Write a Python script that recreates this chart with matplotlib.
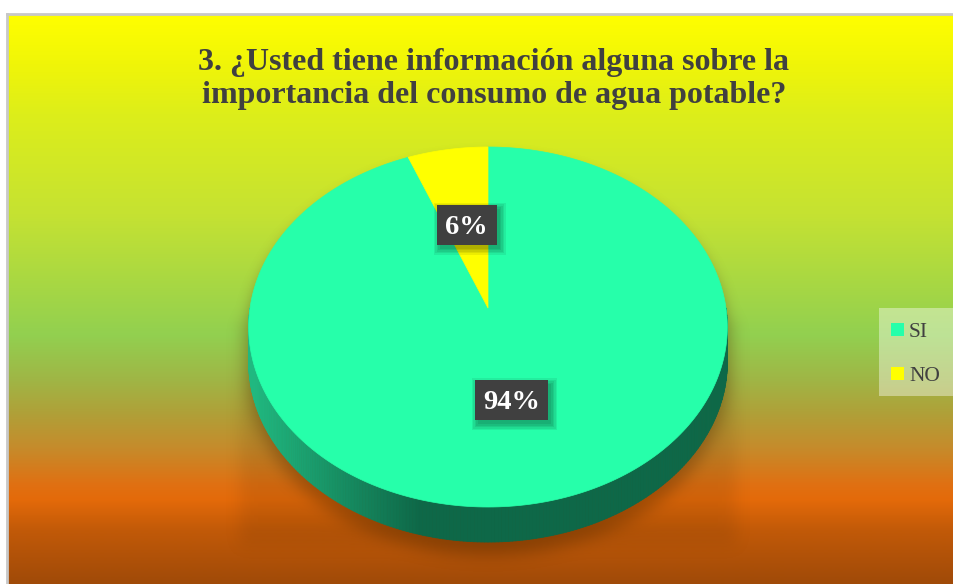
import numpy as np
import matplotlib
matplotlib.use('Agg')
import matplotlib.pyplot as plt
from matplotlib.patches import Polygon, Rectangle
from matplotlib.collections import PolyCollection
from matplotlib.path import Path

# ---- datos ----
categorias = ['SI', 'NO']
valores = [94, 6]
colores = ['#26FFAA', '#FFFF00']
titulo = ['3. ¿Usted tiene información alguna sobre la',
          'importancia del consumo de agua potable?']

# fondo degradado (posición y en px, color)
fondo_y = [15, 64, 114, 214, 335, 381, 414, 447, 485, 500, 530, 584]
fondo_c = [(255, 255, 0), (240, 245, 8), (221, 238, 26), (197, 226, 50),
           (146, 208, 80), (160, 181, 69), (176, 160, 56), (197, 140, 44),
           (224, 112, 18), (228, 106, 10), (194, 90, 8), (160, 74, 8)]

W, H = 954, 584
SERIF = ['Liberation Serif', 'DejaVu Serif']

fig = plt.figure(figsize=(W / 100, H / 100), dpi=100)
fig.patch.set_facecolor('white')
ax = fig.add_axes([0, 0, 1, 1])
ax.axis('off')

# ---- fondo ----
yy = np.arange(15, H + 1)
grad = np.stack([np.interp(yy, fondo_y, [c[i] for c in fondo_c]) for i in range(3)], axis=-1) / 255
ax.imshow(grad[:, None, :], extent=[8, W, H, 15], aspect='auto', zorder=0, interpolation='bilinear')
ax.plot([7, 7], [H, 14], color='#C8C8C8', lw=2, zorder=0.5)
ax.plot([7, W], [14, 14], color='#C8C8C8', lw=2, zorder=0.5)

# ---- geometría del pastel 3D (perspectiva simple) ----
cx, cy = 488, 308
B, A, k = 238, 178, 0.1056
D = 35  # grosor


def proj(t, r=1.0):
    u = r * np.cos(t)
    v = r * np.sin(t)
    d = 1 + k * v
    return cx + B * u / d, cy - A * v / d


def blur(a, r):
    for axis in (0, 1):
        pad = [(r + 1, r) if i == axis else (0, 0) for i in range(2)]
        c = np.cumsum(np.pad(a, pad, mode='edge'), axis=axis)
        n = c.shape[axis]
        a = (np.take(c, range(2 * r + 1, n), axis=axis) -
             np.take(c, range(0, n - 2 * r - 1), axis=axis)) / (2 * r + 1)
    return a


# sombra
X, Y = np.meshgrid(np.arange(W) + 0.5, np.arange(H) + 0.5)
pts = np.column_stack([X.ravel(), Y.ravel()])
tt = np.linspace(0, 2 * np.pi, 400)
ex, ey = proj(tt)
mask = np.zeros((H, W))
for dy in [12, 25, 40, 48]:
    mask = np.maximum(mask, Path(np.column_stack([ex, ey + dy])).contains_points(pts).reshape(H, W))
rect = (X > 240) & (X < 736) & (Y > 320) & (Y < 545)
mask = np.maximum(mask, 0.28 * rect)
sh = mask
for _ in range(3):
    sh = blur(sh, 7)
rgba = np.zeros((H, W, 4))
rgba[..., 0] = 0.30
rgba[..., 1] = 0.15
rgba[..., 3] = 0.45 * sh
ax.imshow(rgba, extent=[0, W, H, 0], zorder=1, interpolation='bilinear')

# lado del cilindro
ts = np.linspace(np.pi, 2 * np.pi, 241)
sx, sy = proj(ts)
claro = np.array([0x20, 0xB8, 0x80]) / 255
oscuro = np.array([0x0E, 0x68, 0x48]) / 255
quads, cols = [], []
for i in range(len(ts) - 1):
    quads.append([(sx[i], sy[i]), (sx[i + 1], sy[i + 1]),
                  (sx[i + 1], sy[i + 1] + D), (sx[i], sy[i] + D)])
    f = np.clip(((sx[i] + sx[i + 1]) / 2 - 255) / (420 - 255), 0, 1)
    cols.append(claro * (1 - f) + oscuro * f)
ax.add_collection(PolyCollection(quads, facecolors=cols, edgecolors=cols, linewidths=0.6, zorder=2))

# cara superior
total = sum(valores)
ang = np.deg2rad(90 - 360 * np.cumsum([0] + valores) / total)
for i, (cat, val) in enumerate(zip(categorias, valores)):
    t = np.linspace(ang[i], ang[i + 1], 300)
    px, py = proj(t)
    poly = np.vstack([[cx, cy], np.column_stack([px, py])])
    ax.add_patch(Polygon(poly, closed=True, facecolor=colores[i], edgecolor=colores[i],
                         lw=0.5, zorder=3))

# etiquetas
fig.canvas.draw()
for i, val in enumerate(valores):
    mid = (ang[i] + ang[i + 1]) / 2
    lx, ly = proj(mid, 0.5)
    txt = ax.text(lx, ly + 9, f'{val}%', ha='center', va='baseline', fontsize=20.5,
                  fontweight='bold', color='white', family=SERIF, zorder=7)
    bb = txt.get_window_extent(renderer=fig.canvas.get_renderer())
    w = bb.width + 17
    # sombra suave
    for g in range(5):
        e = 1.5 * g
        ax.add_patch(Rectangle((lx - w / 2 + 3 - e, ly - 20 + 4 - e), w + 2 * e, 40 + 2 * e,
                               facecolor='black', alpha=0.07, lw=0, zorder=5))
    ax.add_patch(Rectangle((lx - w / 2, ly - 20), w, 40, facecolor='#404040',
                           lw=0, zorder=6))

# leyenda
ax.add_patch(Rectangle((879, 308), 76, 88, facecolor='white', alpha=0.4, lw=0, zorder=4))
for i, cat in enumerate(categorias):
    y0 = 323 + 44 * i
    ax.add_patch(Rectangle((891, y0), 13, 13, facecolor=colores[i], lw=0, zorder=5))
    ax.text(909, y0 + 14.5, cat, ha='left', va='baseline', fontsize=15.5,
            color='#404040', family=SERIF, zorder=5)

# título
ax.text(494, 70, titulo[0], ha='center', va='baseline', fontsize=23, fontweight='bold',
        color='#404040', family=SERIF, zorder=5)
ax.text(494, 103, titulo[1], ha='center', va='baseline', fontsize=23, fontweight='bold',
        color='#404040', family=SERIF, zorder=5)

ax.set_xlim(0, W)
ax.set_ylim(H, 0)
fig.savefig('out.png', dpi=100)
